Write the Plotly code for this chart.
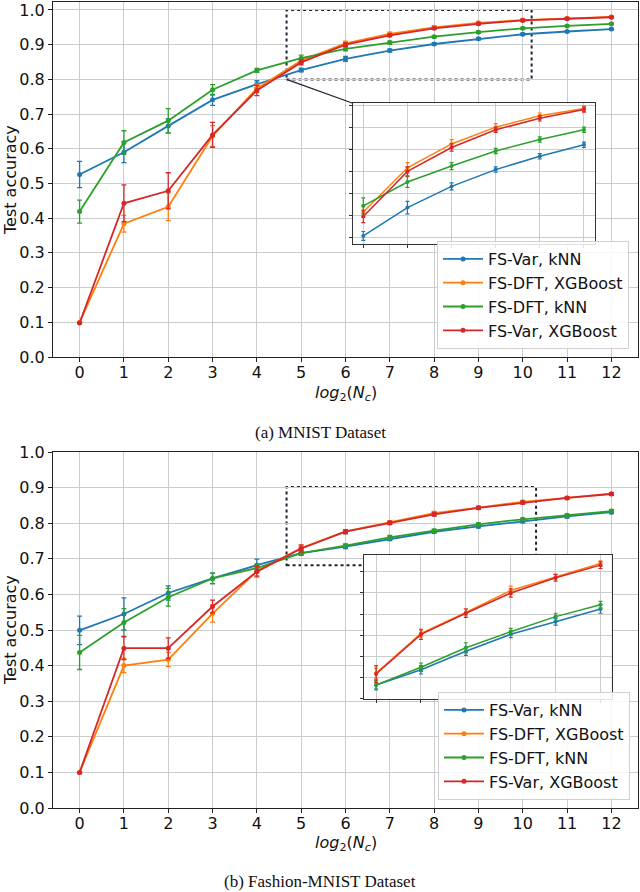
import plotly.graph_objects as go

W, H = 640, 892

# ---------------- data ----------------
x_log2 = list(range(13))
series_names = ["FS-Var, kNN", "FS-DFT, XGBoost", "FS-DFT, kNN", "FS-Var, XGBoost"]
series_colors = ["#1f77b4", "#ff7f0e", "#2ca02c", "#d62728"]

# (a) MNIST
mnist_var_knn = [0.526, 0.590, 0.666, 0.741, 0.786, 0.827, 0.859, 0.883, 0.902, 0.917, 0.930, 0.938, 0.945]
mnist_dft_xgb = [0.100, 0.384, 0.433, 0.637, 0.774, 0.854, 0.904, 0.931, 0.950, 0.963, 0.971, 0.976, 0.980]
mnist_dft_knn = [0.419, 0.618, 0.681, 0.770, 0.826, 0.861, 0.888, 0.906, 0.923, 0.936, 0.947, 0.954, 0.960]
mnist_var_xgb = [0.098, 0.443, 0.479, 0.640, 0.768, 0.849, 0.900, 0.927, 0.947, 0.960, 0.970, 0.975, 0.979]
mnist_var_knn_err = [0.038, 0.030, 0.020, 0.016, 0.010, 0.005, 0.007, 0.004, 0.003, 0.003, 0.003, 0.002, 0.002]
mnist_dft_xgb_err = [0.002, 0.024, 0.040, 0.030, 0.012, 0.006, 0.006, 0.005, 0.004, 0.003, 0.003, 0.002, 0.002]
mnist_dft_knn_err = [0.033, 0.034, 0.035, 0.015, 0.006, 0.009, 0.006, 0.004, 0.003, 0.003, 0.003, 0.002, 0.002]
mnist_var_xgb_err = [0.002, 0.053, 0.052, 0.036, 0.015, 0.007, 0.005, 0.004, 0.003, 0.003, 0.003, 0.002, 0.002]

# (b) Fashion-MNIST
fashion_var_knn = [0.499, 0.545, 0.604, 0.645, 0.682, 0.716, 0.734, 0.756, 0.776, 0.791, 0.806, 0.819, 0.831]
fashion_dft_xgb = [0.100, 0.400, 0.417, 0.546, 0.665, 0.730, 0.777, 0.802, 0.828, 0.844, 0.860, 0.871, 0.883]
fashion_dft_knn = [0.437, 0.521, 0.592, 0.645, 0.674, 0.716, 0.737, 0.760, 0.779, 0.797, 0.811, 0.822, 0.834]
fashion_var_xgb = [0.100, 0.449, 0.449, 0.566, 0.664, 0.729, 0.776, 0.801, 0.825, 0.843, 0.858, 0.871, 0.882]
fashion_var_knn_err = [0.040, 0.045, 0.020, 0.015, 0.017, 0.005, 0.005, 0.005, 0.004, 0.004, 0.005, 0.004, 0.004]
fashion_dft_xgb_err = [0.002, 0.020, 0.020, 0.024, 0.012, 0.006, 0.004, 0.004, 0.005, 0.003, 0.003, 0.003, 0.003]
fashion_dft_knn_err = [0.048, 0.039, 0.025, 0.015, 0.010, 0.006, 0.005, 0.006, 0.004, 0.004, 0.004, 0.004, 0.004]
fashion_var_xgb_err = [0.002, 0.032, 0.029, 0.018, 0.015, 0.010, 0.006, 0.005, 0.005, 0.004, 0.004, 0.003, 0.004]

x_ticks = list(range(13))
y_ticks = [round(0.1 * i, 1) for i in range(11)]
inset_y_ticks = [0.675 + 0.025 * i for i in range(13)]
captions = ["(a) MNIST Dataset", "(b) Fashion-MNIST Dataset"]
zoom_box_a = dict(x0=4.67, x1=10.2, y0=0.80, y1=1.0)
zoom_box_b = dict(x0=4.67, x1=10.3, y0=0.682, y1=0.902)

# ---------------- layout geometry (pixels) ----------------
def px_dom_x(a, b):
    return [a / W, b / W]

def px_dom_y(top, bottom):
    return [1 - bottom / H, 1 - top / H]

main_x_dom = px_dom_x(53, 638)
top_y_dom = px_dom_y(2, 357)
bot_y_dom = px_dom_y(452, 808)
ins_a_x_dom = px_dom_x(352.7, 595)
ins_a_y_dom = px_dom_y(103.3, 244.3)
ins_b_x_dom = px_dom_x(364, 611.7)
ins_b_y_dom = px_dom_y(555, 699.3)

main_x_range = [-0.6, 12.6]
top_y_range = [0, 1.023]
bot_y_range = [0, 1.0]
ins_a_x_range = [4.76, 10.25]
ins_a_y_range = [0.8175, 0.977]
ins_b_x_range = [4.73, 10.25]
ins_b_y_range = [0.699, 0.870]

FONT = "DejaVu Sans"
FS = 16
grid_col = "#cccccc"

fig = go.Figure()

panels = [
    (
        [mnist_var_knn, mnist_dft_xgb, mnist_dft_knn, mnist_var_xgb],
        [mnist_var_knn_err, mnist_dft_xgb_err, mnist_dft_knn_err, mnist_var_xgb_err],
        ("x", "y"), ("x3", "y3"), "legend",
    ),
    (
        [fashion_var_knn, fashion_dft_xgb, fashion_dft_knn, fashion_var_xgb],
        [fashion_var_knn_err, fashion_dft_xgb_err, fashion_dft_knn_err, fashion_var_xgb_err],
        ("x2", "y2"), ("x4", "y4"), "legend2",
    ),
]

for vals, errs, (mx, my), (ix, iy), leg in panels:
    for name, col, v, e in zip(series_names, series_colors, vals, errs):
        fig.add_trace(go.Scatter(
            x=x_log2, y=v, mode="lines+markers", name=name,
            line=dict(color=col, width=1.8), marker=dict(color=col, size=5),
            error_y=dict(type="data", array=e, color=col, thickness=1.3, width=2.5),
            xaxis=mx, yaxis=my, legend=leg, showlegend=True,
        ))
    for name, col, v, e in zip(series_names, series_colors, vals, errs):
        fig.add_trace(go.Scatter(
            x=x_log2[5:11], y=v[5:11], mode="lines+markers", name=name,
            line=dict(color=col, width=1.5), marker=dict(color=col, size=4),
            error_y=dict(type="data", array=e[5:11], color=col, thickness=1.2, width=2),
            xaxis=ix, yaxis=iy, showlegend=False,
        ))

common_axis = dict(automargin=False, showgrid=True, gridcolor=grid_col, gridwidth=1,
                   showline=True, mirror=True, zeroline=False, ticks="outside")

def main_x(dom, anchor):
    return dict(domain=dom, range=main_x_range, anchor=anchor, tickmode="array",
                tickvals=x_ticks, ticktext=[str(t) for t in x_ticks],
                linecolor="#222", linewidth=1, ticklen=4, tickcolor="#222",
                ticklabelstandoff=-3,
                tickfont=dict(family=FONT, size=FS, color="#111"), **common_axis)

def main_y(dom, rng, anchor):
    return dict(domain=dom, range=rng, anchor=anchor, tickmode="array",
                tickvals=y_ticks, ticktext=[f"{t:.1f}" for t in y_ticks],
                linecolor="#222", linewidth=1, ticklen=4, tickcolor="#222",
                tickfont=dict(family=FONT, size=FS, color="#111"), **common_axis)

def inset_x(dom, rng, anchor):
    return dict(domain=dom, range=rng, anchor=anchor, tickmode="array",
                tickvals=x_ticks, showticklabels=False,
                linecolor="#333", linewidth=1, ticklen=3, tickcolor="#333", **common_axis)

def inset_y(dom, rng, anchor):
    return dict(domain=dom, range=rng, anchor=anchor, tickmode="array",
                tickvals=inset_y_ticks, showticklabels=False,
                linecolor="#333", linewidth=1, ticklen=3, tickcolor="#333", **common_axis)

legend_style = dict(font=dict(family=FONT, size=FS, color="#111"),
                    bgcolor="rgba(255,255,255,0.85)", bordercolor="#d0d0d0", borderwidth=1,
                    xanchor="right", yanchor="bottom", itemwidth=40, tracegroupgap=0)

fig.update_layout(
    template="none",
    width=W, height=H, autosize=False,
    margin=dict(l=0, r=0, t=0, b=0, pad=0),
    paper_bgcolor="white", plot_bgcolor="white",
    font=dict(family=FONT, size=FS, color="#111"),
    xaxis=main_x(main_x_dom, "y"),
    yaxis=main_y(top_y_dom, top_y_range, "x"),
    xaxis2=main_x(main_x_dom, "y2"),
    yaxis2=main_y(bot_y_dom, bot_y_range, "x2"),
    xaxis3=inset_x(ins_a_x_dom, ins_a_x_range, "y3"),
    yaxis3=inset_y(ins_a_y_dom, ins_a_y_range, "x3"),
    xaxis4=inset_x(ins_b_x_dom, ins_b_x_range, "y4"),
    yaxis4=inset_y(ins_b_y_dom, ins_b_y_range, "x4"),
    legend=dict(x=629 / W, y=1 - 349 / H, **legend_style),
    legend2=dict(x=630 / W, y=1 - 800 / H, **legend_style),
)

# zoom boxes (dashed), drawn inside the main subplots (under the insets)
box_line = dict(color="#1e2233", width=2, dash="3px,3px")
fig.add_shape(type="rect", xref="x", yref="y", line=box_line, layer="below",
              fillcolor="rgba(0,0,0,0)", **zoom_box_a)
fig.add_shape(type="rect", xref="x2", yref="y2", line=box_line, layer="below",
              fillcolor="rgba(0,0,0,0)", **zoom_box_b)

# connector line from zoom box corner to the inset corner (top panel)
def data_to_paper(v, dom, rng):
    return dom[0] + (v - rng[0]) / (rng[1] - rng[0]) * (dom[1] - dom[0])

cx0 = data_to_paper(zoom_box_a["x0"], main_x_dom, main_x_range)
cy0 = data_to_paper(zoom_box_a["y0"], top_y_dom, top_y_range)
fig.add_shape(type="line", xref="paper", yref="paper",
              x0=cx0, y0=cy0, x1=ins_a_x_dom[0], y1=ins_a_y_dom[1],
              line=dict(color="#1e2233", width=1.2), layer="above")

# axis titles and captions
xlabel = "<i>log</i><sub>2</sub>(<i>N</i><sub><i>c</i></sub>)"
xcen = (main_x_dom[0] + main_x_dom[1]) / 2
for ycen_px, lab_px, cap_px, cap in [(180, 393, 432, captions[0]), (630, 843, 881, captions[1])]:
    fig.add_annotation(text="Test accuracy", xref="paper", yref="paper",
                       x=10 / W, y=1 - ycen_px / H, textangle=-90, showarrow=False,
                       font=dict(family=FONT, size=FS, color="#111"),
                       xanchor="center", yanchor="middle")
    fig.add_annotation(text=xlabel, xref="paper", yref="paper",
                       x=xcen, y=1 - lab_px / H, showarrow=False,
                       font=dict(family=FONT, size=FS, color="#111"),
                       xanchor="center", yanchor="middle")
    fig.add_annotation(text=cap, xref="paper", yref="paper",
                       x=320 / W, y=1 - cap_px / H, showarrow=False,
                       font=dict(family="Liberation Serif", size=17, color="#111"),
                       xanchor="center", yanchor="middle")

fig.write_html("out.html", config={"displayModeBar": False},
               post_script="document.body.style.margin='0px';")
